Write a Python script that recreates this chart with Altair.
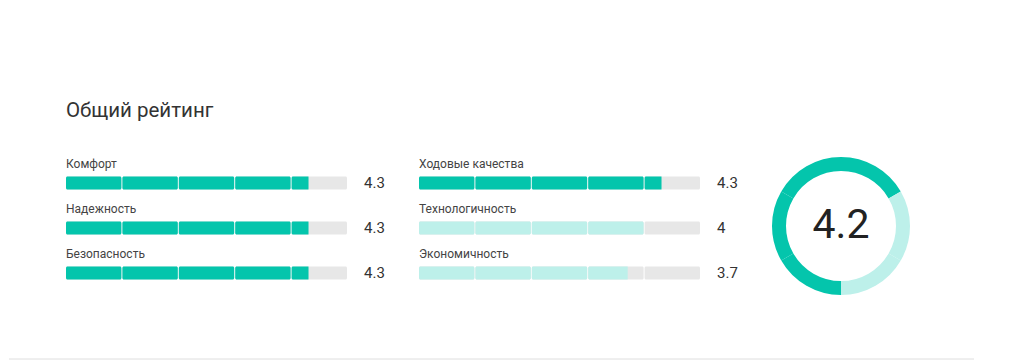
import math
import altair as alt
import pandas as pd

# ---- data ----
categories = ["Комфорт", "Надежность", "Безопасность",
              "Ходовые качества", "Технологичность", "Экономичность"]
ratings = [4.3, 4.3, 4.3, 4.3, 4.0, 3.7]
value_labels = ["4.3", "4.3", "4.3", "4.3", "4", "3.7"]
columns = [0, 0, 0, 1, 1, 1]
rows = [0, 1, 2, 0, 1, 2]
levels = ["high", "high", "high", "high", "low", "low"]
overall_label = "4.2"
max_score = 5
title_text = "Общий рейтинг"

DARK = "#04c5ac"
LIGHT = "#bdf0ea"
GRAY = "#e7e7e7"
color_scale = alt.Scale(domain=["high", "low"], range=[DARK, LIGHT])

# ---- derived tables ----
cat_df = pd.DataFrame({"category": categories, "rating": ratings, "label": value_labels,
                       "col": columns, "row": rows, "level": levels,
                       "idx": list(range(len(categories))), "one": [1] * len(categories)})

bg_recs, full_recs, part_recs = [], [], []
for c, v, col, r, lv in zip(categories, ratings, columns, rows, levels):
    for i in range(max_score):
        bg_recs.append({"category": c, "col": col, "row": r, "start": i, "end": i + 1})
    nfull = int(math.floor(v + 1e-9))
    for i in range(nfull):
        full_recs.append({"category": c, "col": col, "row": r, "level": lv, "start": i, "end": i + 1})
    if v - nfull > 1e-9:
        part_recs.append({"category": c, "col": col, "row": r, "level": lv, "start": nfull, "end": v})
bg_df = pd.DataFrame(bg_recs)
full_df = pd.DataFrame(full_recs)
part_df = pd.DataFrame(part_recs)

PANEL_H = 150
yscale = alt.Scale(domain=[-32 / 45, (PANEL_H - 32) / 45], reverse=True,
                   nice=False, zero=False, padding=0)
xscale = alt.Scale(domain=[0, max_score], nice=False, zero=False, padding=0)


def bar_panel(col, with_rule=False):
    y = alt.Y("row:Q", axis=None, scale=yscale)
    x = alt.X("start:Q", axis=None, scale=xscale)
    bg = alt.Chart(bg_df[bg_df.col == col]).mark_bar(
        color=GRAY, cornerRadius=1.5, x2Offset=-1
    ).encode(x=x, x2="end:Q", y=y, size=alt.value(13))
    full = alt.Chart(full_df[full_df.col == col]).mark_bar(
        cornerRadius=1.5, x2Offset=-1
    ).encode(x=x, x2="end:Q", y=y, size=alt.value(13),
             color=alt.Color("level:N", scale=color_scale, legend=None))
    layers = [bg, full]
    pdf = part_df[part_df.col == col]
    if len(pdf):
        part = alt.Chart(pdf).mark_bar(
            cornerRadiusTopLeft=1.5, cornerRadiusBottomLeft=1.5
        ).encode(x=x, x2="end:Q", y=y, size=alt.value(13),
                 color=alt.Color("level:N", scale=color_scale, legend=None))
        layers.append(part)
    cdf = cat_df[cat_df.col == col]
    labels = alt.Chart(cdf).mark_text(
        align="left", baseline="alphabetic", dy=-15, fontSize=12, color="#444"
    ).encode(x=alt.datum(0), y=y, text="category:N")
    values = alt.Chart(cdf).mark_text(
        align="left", baseline="alphabetic", dx=16, dy=5, fontSize=15, color="#333"
    ).encode(x=alt.datum(max_score), y=y, text="label:N")
    layers += [labels, values]
    if with_rule:
        rule = alt.Chart(cdf.head(1)).mark_rule(color="#dedede", strokeWidth=1).encode(
            x=alt.value(-57), x2=alt.value(908), y=alt.value(208))
        layers.append(rule)
    return alt.layer(*layers).properties(width=282, height=PANEL_H)


donut = alt.Chart(cat_df).mark_arc(
    outerRadius=69, innerRadius=55
).encode(
    theta=alt.Theta("one:Q", stack=True, scale=alt.Scale(range=[math.pi, 3 * math.pi])),
    order=alt.Order("idx:Q"),
    color=alt.Color("level:N", scale=color_scale, legend=None),
)
center = alt.Chart(pd.DataFrame({"t": [overall_label]})).mark_text(
    fontSize=41, color="#222", baseline="middle", align="center"
).encode(text="t:N")
donut_panel = alt.layer(donut, center).properties(width=138, height=PANEL_H)

chart = alt.hconcat(bar_panel(0, with_rule=True), bar_panel(1), donut_panel, spacing=71).properties(
    title=alt.Title(title_text, anchor="start", frame="group", fontSize=20.5,
                    fontWeight="normal", color="#333", offset=30),
    padding={"left": 0, "top": 92, "right": 0, "bottom": 0},
    bounds="flush",
).configure(font="Roboto").configure_view(stroke=None)

chart.save("out.html", embed_options={"renderer": "svg", "actions": False})
